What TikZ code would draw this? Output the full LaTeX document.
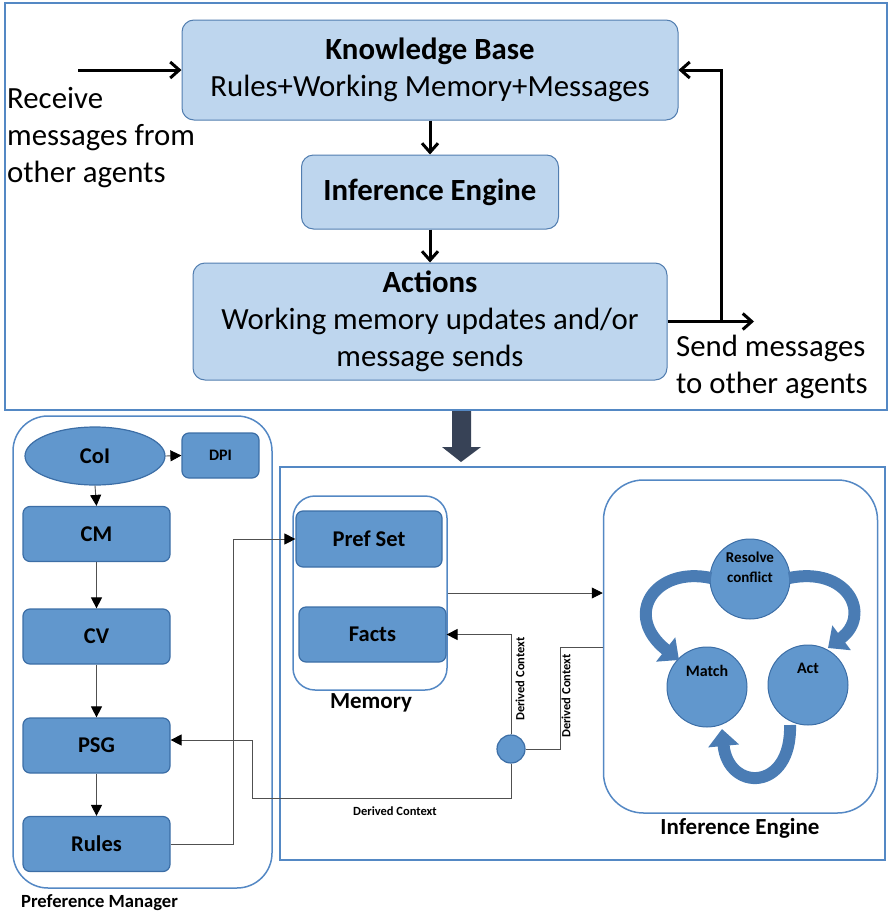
\documentclass[tikz,border=0pt]{standalone}
\usepackage{fontspec}
\setmainfont{Carlito}
\usetikzlibrary{arrows.meta,shapes.geometric}

\definecolor{frameblue}{RGB}{84,136,196}
\definecolor{lightfill}{RGB}{190,214,238}
\definecolor{lightedge}{RGB}{82,126,176}
\definecolor{midfill}{RGB}{97,151,205}
\definecolor{midedge}{RGB}{60,110,166}
\definecolor{cycleblue}{RGB}{74,124,180}
\definecolor{darkarrow}{RGB}{55,66,86}
\definecolor{wire}{RGB}{80,80,80}

\newcommand{\bigtxt}{\fontsize{30.8}{37}\selectfont}
\newcommand{\boxtxt}{\fontsize{22.5}{26}\selectfont\bfseries}
\newcommand{\captxt}{\fontsize{23}{27}\selectfont\bfseries}
\newcommand{\smalltxt}{\fontsize{12.5}{14}\selectfont\bfseries}

\begin{document}
\begin{tikzpicture}[x=1pt,y=1pt,yscale=-1,
  kbbox/.style={draw=lightedge, fill=lightfill, rounded corners=12pt, line width=1pt, align=center, inner sep=0pt, font=\bigtxt},
  pmbox/.style={draw=midedge, fill=midfill, rounded corners=7pt, line width=1.2pt, inner sep=0pt, minimum width=147pt, minimum height=55pt, font=\boxtxt},
  cyclenode/.style={circle, draw=midedge, fill=midfill, line width=1pt, minimum size=80pt, inner sep=0pt, align=center},
  container/.style={draw=frameblue, line width=1.5pt},
  thickarrow/.style={line width=3pt, -{Straight Barb[length=9pt,width=16pt,line width=3pt]}},
  thinarrow/.style={draw=wire, line width=0.9pt, -{Triangle[length=11pt,width=11pt,fill=black,color=black]}},
  plainwire/.style={draw=wire, line width=0.9pt},
  cyclearrow/.style={cycleblue, line width=12pt, -{Triangle[length=17pt,width=30pt]}}
]
\useasboundingbox (0,0) rectangle (891,916);

% outer frames
\draw[container] (5,3) rectangle (887,410);
\draw[container] (280,467) rectangle (885,860);
\draw[container, rounded corners=35pt] (13,416) rectangle (272,888);

% agent loop
\node[kbbox, minimum width=496pt, minimum height=100pt] (kb) at (430,70) {\textbf{Knowledge Base}\\Rules+Working Memory+Messages};
\node[kbbox, minimum width=257pt, minimum height=74pt] (ie) at (430,192) {\textbf{Inference Engine}};
\node[kbbox, minimum width=474pt, minimum height=117pt] (act) at (430,321.5) {\textbf{Actions}\\Working memory updates and/or\\message sends};

\coordinate (inlet) at (78,70);
\coordinate (outlet) at (754,321.5);
\coordinate (fb) at (721,321.5);

\draw[thickarrow] (kb.south) -- (ie.north);
\draw[thickarrow] (ie.south) -- (act.north);
\draw[thickarrow] (inlet) -- (kb.west);
\draw[thickarrow] (act.east) -- (outlet);
\draw[thickarrow] (fb) |- (kb.east);

\node[anchor=west, align=left, inner sep=0pt, font=\bigtxt] (recv) at (7,138) {Receive\\messages from\\other agents};
\node[anchor=west, align=left, inner sep=0pt, font=\bigtxt] (send) at (676,367) {Send messages\\to other agents};

% block arrow down
\fill[darkarrow] (452,411) -- (471,411) -- (471,447) -- (481,447) -- (461,462) -- (442,447) -- (452,447) -- cycle;

% preference manager
\node[ellipse, draw=midedge, fill=midfill, line width=1.2pt, minimum width=140pt, minimum height=58pt, inner sep=0pt, font=\boxtxt] (coi) at (95,456) {CoI};
\node[pmbox, minimum width=77pt, minimum height=45pt, font=\fontsize{16}{18}\selectfont\bfseries] (dpi) at (220.5,455.5) {DPI};
\node[pmbox] (cm) at (96.5,534) {CM};
\node[pmbox] (cv) at (96.5,636.5) {CV};
\node[pmbox] (psg) at (96.5,745.5) {PSG};
\node[pmbox] (rules) at (96.5,844) {Rules};
\node[anchor=west, inner sep=0pt, font=\fontsize{18.6}{22}\selectfont\bfseries] (pmlabel) at (21,903) {Preference Manager};

\draw[thinarrow] (coi.east) -- (dpi.west);
\draw[thinarrow] (coi.south) -- (cm.north);
\draw[thinarrow] (cm.south) -- (cv.north);
\draw[thinarrow] (cv.south) -- (psg.north);
\draw[thinarrow] (psg.south) -- (rules.north);

% memory
\node[draw=frameblue, line width=1.5pt, rounded corners=22pt, minimum width=154pt, minimum height=194pt, inner sep=0pt] (mem) at (370,593) {};
\node[pmbox, minimum width=146pt, minimum height=56pt] (pref) at (369,539) {Pref Set};
\node[pmbox, minimum width=147pt, minimum height=55pt] (facts) at (372.5,634.5) {Facts};
\node[font=\captxt, inner sep=0pt] (memlabel) at (371,703) {Memory};

% inference engine
\node[draw=frameblue, line width=1.5pt, rounded corners=40pt, minimum width=274pt, minimum height=333pt, inner sep=0pt] (eng) at (740.5,646.5) {};
\node[font=\captxt, inner sep=0pt] (englabel) at (740,828) {Inference Engine};
\node[cyclenode, font=\fontsize{15}{20}\selectfont\bfseries] (resolve) at (750,579) {Resolve\\conflict\\[4pt]};
\node[cyclenode, font=\fontsize{16}{19}\selectfont\bfseries] (match) at (707,687) {Match\\[14pt]};
\node[cyclenode, font=\fontsize{16}{19}\selectfont\bfseries] (actc) at (808,685) {Act\\[14pt]};

\draw[cyclearrow] (711,578) .. controls (655,566) and (622,615) .. (679,660);
\draw[cyclearrow] (789,578) .. controls (848,566) and (872,615) .. (828,648);
\draw[cyclearrow] (790,725) .. controls (792,792) and (728,792) .. (722,729);

% context wiring
\node[circle, draw=midedge, fill=midfill, line width=1.2pt, minimum size=28pt, inner sep=0pt] (ctx) at (511,749) {};
\coordinate (rulesbend) at (233,844);
\coordinate (psgbend) at (252,798);
\coordinate (ctxlow) at (511,798);
\coordinate (ctxright) at (560,749);
\coordinate (ctxup) at (560,647);
\coordinate (engin) at (eng.west |- ctxup);

\draw[thinarrow] (rules.east) -- (rulesbend) |- (pref.west);
\draw[thinarrow] (mem.east |- 0,593) -- (eng.west |- 0,593);
\draw[thinarrow] (ctx.north) |- (facts.east);
\draw[plainwire] (ctx.east) -- (ctxright) -- (ctxup) -- (engin);
\draw[thinarrow] (ctx.south) -- (ctxlow) -- (psgbend) |- (psg.east |- 0,740);

\node[rotate=90, font=\smalltxt, inner sep=0pt] (dc1) at (520,679) {Derived Context};
\node[rotate=90, font=\smalltxt, inner sep=0pt] (dc2) at (566,696) {Derived Context};
\node[font=\smalltxt, inner sep=0pt] (dc3) at (395,811) {Derived Context};

\end{tikzpicture}
\end{document}
